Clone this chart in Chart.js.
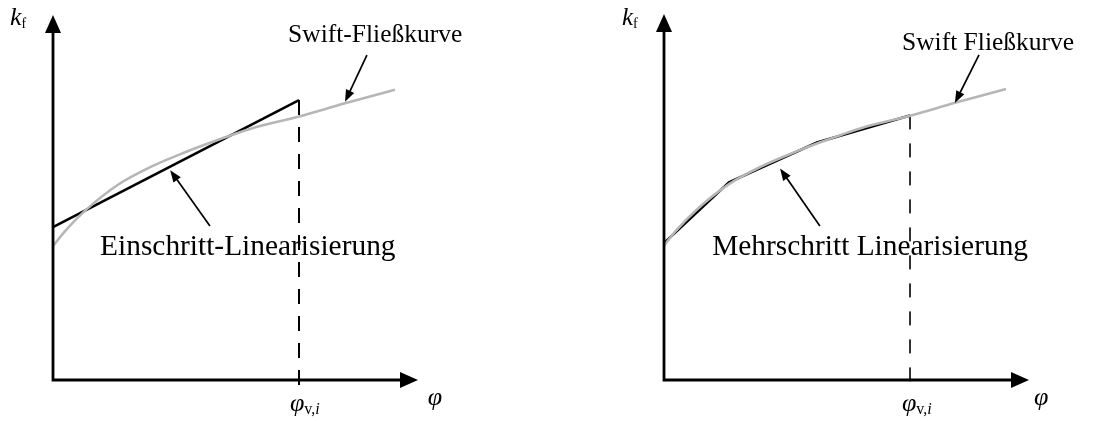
<!DOCTYPE html>
<html><head><meta charset="utf-8">
<script src="https://cdn.jsdelivr.net/npm/chart.js@4.4.1/dist/chart.umd.min.js"></script>
<style>
html,body{margin:0;padding:0;background:#fff;width:1107px;height:421px;overflow:hidden}
canvas{position:absolute;top:0}
#left{left:0}
#right{left:553px}
</style></head><body>
<canvas id="left" width="553" height="421"></canvas>
<canvas id="right" width="554" height="421"></canvas>
<script>
// Swift flow curve k_f(φ) in normalised axis units (0..100 on both axes)
const swiftPhi = [0, 3.3, 8.8, 17.8, 26.6, 36.7, 41.9, 54.0, 67.4, 80.0, 93.7];
const swiftKf  = [36.7, 40.8, 46.4, 53.5, 58.3, 62.6, 64.6, 68.8, 72.2, 75.8, 79.5];
// single-step linearisation (one straight line up to φ_v,i)
const singlePhi = [0, 67.4];
const singleKf  = [41.9, 76.7];
// multi-step linearisation (chords between points on the Swift curve)
const multiPhi = [0, 17.8, 41.9, 67.4];
const multiKf  = [37.4, 54.0, 64.9, 72.3];
// end of the linearisation range
const phiV = 67.4;

const SERIF = '"Liberation Serif","Times New Roman",serif';
const zip = (xs, ys) => xs.map((x, i) => ({x, y: ys[i]}));

function arrowHead(ctx, x1, y1, x2, y2, len, half) {
  const a = Math.atan2(y2 - y1, x2 - x1), c = Math.cos(a), s = Math.sin(a);
  ctx.beginPath();
  ctx.moveTo(x2, y2);
  ctx.lineTo(x2 - len * c + half * s, y2 - len * s - half * c);
  ctx.lineTo(x2 - len * c - half * s, y2 - len * s + half * c);
  ctx.closePath();
  ctx.fill();
}

function arrow(ctx, x1, y1, x2, y2, w, len, half) {
  const a = Math.atan2(y2 - y1, x2 - x1);
  ctx.lineWidth = w;
  ctx.beginPath();
  ctx.moveTo(x1, y1);
  ctx.lineTo(x2 - (len - 1) * Math.cos(a), y2 - (len - 1) * Math.sin(a));
  ctx.stroke();
  arrowHead(ctx, x1, y1, x2, y2, len, half);
}

// text made of runs: [text, font, dy]
function richText(ctx, runs, x, y) {
  ctx.textAlign = 'left';
  ctx.textBaseline = 'alphabetic';
  let cx = x;
  for (const [t, font, dy] of runs) {
    ctx.font = font;
    ctx.fillText(t, cx, y + (dy || 0));
    cx += ctx.measureText(t).width;
  }
}

function sketchPlugin(cfg) {
  return {
    id: 'sketch',
    afterDatasetsDraw(chart) {
      const ctx = chart.ctx;
      const X = v => chart.scales.x.getPixelForValue(v);
      const Y = v => chart.scales.y.getPixelForValue(v);
      ctx.save();
      ctx.fillStyle = '#000';
      ctx.strokeStyle = '#000';
      ctx.lineCap = 'square';
      // axes with arrow tips
      ctx.lineWidth = 2.8;
      ctx.beginPath();
      ctx.moveTo(X(0), Y(100) + 14);
      ctx.lineTo(X(0), Y(0));
      ctx.lineTo(X(100) - 14, Y(0));
      ctx.stroke();
      arrowHead(ctx, X(0), Y(0), X(0), Y(100), 18, 8);
      arrowHead(ctx, X(0), Y(0), X(100), Y(0), 18, 8);
      ctx.lineCap = 'butt';
      // pointer arrows
      for (const p of cfg.pointers) {
        arrow(ctx, X(p[0]), Y(p[1]), X(p[2]), Y(p[3]), 1.7, 12, 4.5);
      }
      // labels
      for (const l of cfg.labels) {
        richText(ctx, l.runs, X(l.at[0]), Y(l.at[1]));
      }
      ctx.restore();
    }
  };
}

function makeChart(id, cfg) {
  const last = cfg.kf.length - 1;
  new Chart(document.getElementById(id), {
    type: 'scatter',
    data: {
      datasets: [
        { data: zip(swiftPhi, swiftKf), showLine: true, borderColor: '#b6b6b6', borderWidth: 2.6,
          pointRadius: 0, cubicInterpolationMode: 'monotone', clip: false },
        { data: zip(cfg.phi, cfg.kf), showLine: true, borderColor: '#000', borderWidth: 2.6,
          pointRadius: 0, tension: 0, clip: false },
        { data: [{x: phiV, y: cfg.kf[last]}, {x: phiV, y: -2.2}], showLine: true, borderColor: '#000',
          borderWidth: cfg.dashW, borderDash: cfg.dash, pointRadius: 0, clip: false }
      ]
    },
    options: {
      responsive: false, animation: false, events: [],
      layout: { padding: cfg.pad },
      scales: {
        x: { type: 'linear', min: 0, max: 100, display: false },
        y: { type: 'linear', min: 0, max: 100, display: false }
      },
      plugins: { legend: { display: false }, tooltip: { enabled: false } }
    },
    plugins: [sketchPlugin(cfg)]
  });
}

const italic = s => `italic ${s}px ${SERIF}`;
const roman = s => `${s}px ${SERIF}`;

makeChart('left', {
  phi: singlePhi, kf: singleKf, dashW: 2, dash: [15, 12],
  pad: { left: 53, right: 135, top: 15, bottom: 41 },
  pointers: [[86.0, 89.0, 80.0, 76.2], [43.0, 42.2, 32.1, 57.5]],
  labels: [
    { at: [64.4, 92.6], runs: [['Swift-Fließkurve', roman(25.5)]] },
    { at: [12.9, 34.2], runs: [['Einschritt-Linearisierung', roman(29.4)]] },
    { at: [-11.8, 97.3], runs: [['k', italic(26)], ['f', roman(14), 3]] },
    { at: [64.9, -8.5], runs: [['φ', italic(26)], ['v,', roman(16), 3], ['i', italic(16), 3]] },
    { at: [102.7, -6.8], runs: [['φ', italic(26)]] }
  ]
});

makeChart('right', {
  phi: multiPhi, kf: multiKf, dashW: 1.6, dash: [14, 14],
  pad: { left: 111, right: 78, top: 14, bottom: 41 },
  pointers: [[86.3, 88.8, 79.7, 75.7], [42.7, 42.1, 31.8, 57.8]],
  labels: [
    { at: [65.2, 90.2], runs: [['Swift Fließkurve', roman(25.5)]] },
    { at: [13.2, 34.2], runs: [['Mehrschritt Linearisierung', roman(29.4)]] },
    { at: [-11.5, 97.0], runs: [['k', italic(25)], ['f', roman(14), 3]] },
    { at: [65.2, -8.5], runs: [['φ', italic(26)], ['v,', roman(16), 3], ['i', italic(16), 3]] },
    { at: [101.4, -6.8], runs: [['φ', italic(26)]] }
  ]
});
</script>
</body></html>
